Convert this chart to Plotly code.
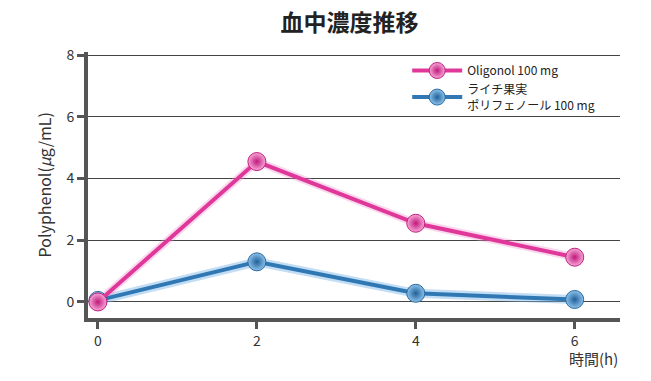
import plotly.graph_objects as go

hours = [0, 2, 4, 6]
oligonol = [0.0, 4.55, 2.55, 1.45]
lychee = [0.05, 1.3, 0.28, 0.08]
x_ticks = [0, 2, 4, 6]
y_ticks = [0, 2, 4, 6, 8]
name_oligonol = "Oligonol 100 mg"
name_lychee = "ライチ果実<br>ポリフェノール 100 mg"
title_text = "血中濃度推移"
x_title = "時間(h)"
y_title = "Polyphenol(<i>μ</i>g/mL)"

FONT = "Noto Sans CJK JP, Noto Sans, sans-serif"
AX = "#555555"

fig = go.Figure()

# glow for lines
fig.add_trace(go.Scatter(x=hours, y=lychee, mode="lines",
                         line=dict(color="rgba(120,180,230,0.45)", width=9),
                         showlegend=False, hoverinfo="skip"))
fig.add_trace(go.Scatter(x=hours, y=oligonol, mode="lines",
                         line=dict(color="rgba(240,140,200,0.35)", width=8),
                         showlegend=False, hoverinfo="skip"))

fig.add_trace(go.Scatter(
    x=hours, y=lychee, mode="lines+markers", name=name_lychee,
    line=dict(color="#2f78b4", width=4),
    marker=dict(size=18, color="#8ec3ea", line=dict(color="#2a6aa2", width=1),
                gradient=dict(type="radial", color="#1f5f9a")),
))
fig.add_trace(go.Scatter(
    x=hours, y=oligonol, mode="lines+markers", name=name_oligonol,
    line=dict(color="#e0389a", width=4),
    marker=dict(size=18, color="#f7a8d6", line=dict(color="#c02080", width=1),
                gradient=dict(type="radial", color="#c0187c")),
))

fig.update_layout(
    width=651, height=381,
    margin=dict(l=88, r=31, t=52, b=63),
    paper_bgcolor="white", plot_bgcolor="white",
    font=dict(family=FONT, color="#333333", size=14),
    title=dict(text="<b>" + title_text + "</b>", x=0.537, xanchor="center",
               y=0.94, yanchor="middle", font=dict(size=23, color="#222222")),
    showlegend=True,
    legend=dict(x=0.6, y=0.985, xanchor="left", yanchor="top",
                traceorder="reversed", bgcolor="rgba(0,0,0,0)",
                font=dict(size=12, color="#222222"), itemwidth=50,
                tracegroupgap=8),
    xaxis=dict(range=[-0.125, 6.57], tickvals=x_ticks, showgrid=False,
               zeroline=False, showline=True, linecolor=AX, linewidth=4,
               ticks="outside", ticklen=7, tickwidth=3, tickcolor=AX,
               tickfont=dict(size=14, color="#333333")),
    yaxis=dict(range=[-0.52, 8.1], tickvals=y_ticks, showgrid=True,
               gridcolor="#444444", gridwidth=1, zeroline=False,
               showline=True, linecolor=AX, linewidth=4,
               ticks="outside", ticklen=7, tickwidth=3, tickcolor=AX,
               tickfont=dict(size=14, color="#333333")),
    annotations=[
        dict(text=x_title, x=1.0, xref="paper", y=-0.105, yref="paper",
             xanchor="right", yanchor="top", showarrow=False,
             font=dict(size=15, color="#333333")),
        dict(text=y_title, x=-0.082, xref="paper", y=0.5, yref="paper",
             textangle=-90, xanchor="center", yanchor="middle",
             showarrow=False, font=dict(size=16, color="#333333")),
    ],
)

fig.write_html("out.html")
